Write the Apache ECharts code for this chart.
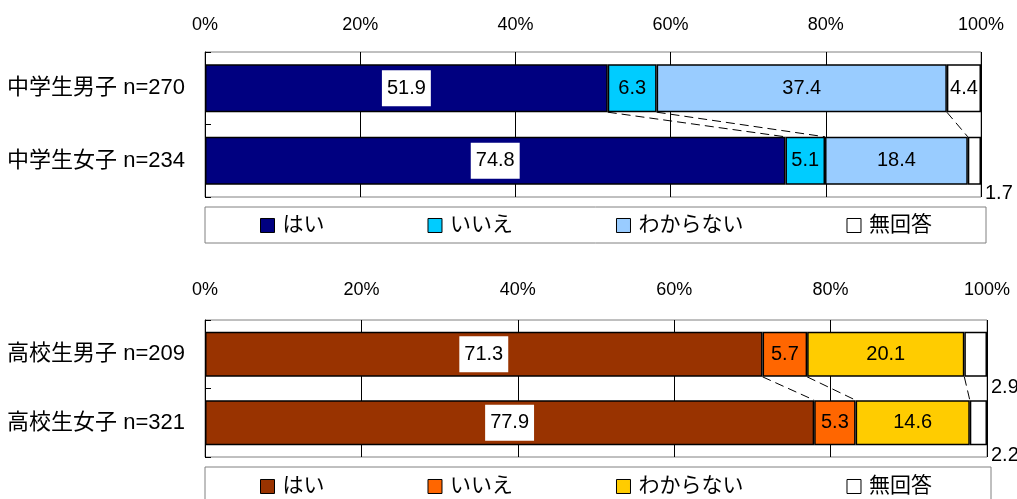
<!DOCTYPE html>
<html>
<head>
<meta charset="utf-8">
<script src="https://cdn.jsdelivr.net/npm/echarts@6/dist/echarts.min.js"></script>
<style>
  html, body { margin: 0; padding: 0; background: #fff; }
  #top { position: absolute; left: 0; top: 0; width: 1017px; height: 250px; }
  #bottom { position: absolute; left: 0; top: 250px; width: 1017px; height: 249px; }
</style>
</head>
<body>
<div id="top"></div>
<div id="bottom"></div>
<script>
// ---- データ ----
const answers = ['はい', 'いいえ', 'わからない', '無回答'];

const juniorCats = ['中学生男子 n=270', '中学生女子 n=234'];
const juniorYes = [51.9, 74.8];
const juniorNo = [6.3, 5.1];
const juniorUnknown = [37.4, 18.4];
const juniorNoAnswer = [4.4, 1.7];

const seniorCats = ['高校生男子 n=209', '高校生女子 n=321'];
const seniorYes = [71.3, 77.9];
const seniorNo = [5.7, 5.3];
const seniorUnknown = [20.1, 14.6];
const seniorNoAnswer = [2.9, 2.2];

const FONT = '"Liberation Sans", "Noto Sans CJK JP", sans-serif';

// ---- 描画 ----
function drawChart(el, cats, cols, colors, lay) {
  const chart = echarts.init(el);

  const series = cols.map((vals, k) => ({
    name: answers[k],
    type: 'bar',
    stack: 'all',
    barWidth: '66%',
    itemStyle: { color: colors[k], borderColor: '#000', borderWidth: 1.5 },
    label: k === 0
      ? { show: true, position: 'inside', color: '#000', fontSize: 20, fontFamily: FONT,
          backgroundColor: '#fff', padding: [9, 5, 7, 5] }
      : { show: true, position: 'inside', color: '#000', fontSize: 20, fontFamily: FONT },
    // 小さい無回答は棒の外（右下）に出す
    data: vals.map((v) => (k === 3 && v < 4
      ? { value: v, label: { position: 'right', distance: 4, offset: [0, 33] } }
      : v)),
  }));

  // 区切り位置（累積）を結ぶ破線
  const joins = [];
  let c0 = 0, c1 = 0;
  for (let k = 0; k < cols.length - 1; k++) {
    c0 += cols[k][0];
    c1 += cols[k][1];
    joins.push([c0, c1, 0]);
  }
  series.push({
    type: 'custom',
    silent: true,
    encode: { x: [0, 1], y: 2 },
    data: joins,
    renderItem: (params, api) => {
      const a = api.coord([api.value(0), 0]);
      const b = api.coord([api.value(1), 1]);
      const half = api.size([0, 1])[1] * 0.33;
      return {
        type: 'line',
        shape: { x1: a[0], y1: a[1] + half, x2: b[0], y2: b[1] - half },
        style: { stroke: '#000', lineWidth: 1, lineDash: [9, 5] },
      };
    },
  });

  chart.setOption({
    animation: false,
    textStyle: { fontFamily: FONT },
    grid: { left: 205, right: lay.right, top: lay.top, height: lay.height,
            show: true, borderColor: '#808080', borderWidth: 1 },
    xAxis: {
      type: 'value', position: 'top', min: 0, max: 100, interval: 20,
      axisLabel: { formatter: '{value}%', color: '#000', fontSize: 18, margin: lay.labelMargin },
      axisLine: { show: false }, axisTick: { show: false },
      splitLine: { lineStyle: { color: '#000', width: 1 } },
    },
    yAxis: {
      type: 'category', data: cats, inverse: true,
      axisLabel: { color: '#000', fontSize: 22, margin: 20 },
      axisLine: { show: true, lineStyle: { color: '#000', width: 1 } },
      axisTick: { show: true, inside: true, length: 6, lineStyle: { color: '#000' } },
    },
    legend: {
      data: answers, left: 260, top: lay.legendTop, padding: 0,
      itemWidth: 14, itemHeight: 14, itemGap: 103, icon: 'rect',
      itemStyle: { borderColor: '#000', borderWidth: 1 },
      textStyle: { color: '#000', fontSize: 21, padding: [0, 0, 0, 3] },
      selectedMode: false,
    },
    graphic: [{
      type: 'rect', z: -1, silent: true,
      shape: { x: 205, y: lay.boxY, width: lay.boxW, height: lay.boxH },
      style: { fill: '#fff', stroke: '#808080', lineWidth: 1 },
    }],
    series,
  });
  return chart;
}

drawChart(document.getElementById('top'), juniorCats,
  [juniorYes, juniorNo, juniorUnknown, juniorNoAnswer],
  ['#000080', '#00ccff', '#99ccff', '#ffffff'],
  { top: 52, height: 145, right: 36, labelMargin: 18, legendTop: 215, boxY: 207, boxW: 781, boxH: 36 });

drawChart(document.getElementById('bottom'), seniorCats,
  [seniorYes, seniorNo, seniorUnknown, seniorNoAnswer],
  ['#993300', '#ff6600', '#ffcc00', '#ffffff'],
  { top: 70, height: 137, right: 30, labelMargin: 21, legendTop: 226, boxY: 217, boxW: 786, boxH: 40 });
</script>
</body>
</html>
